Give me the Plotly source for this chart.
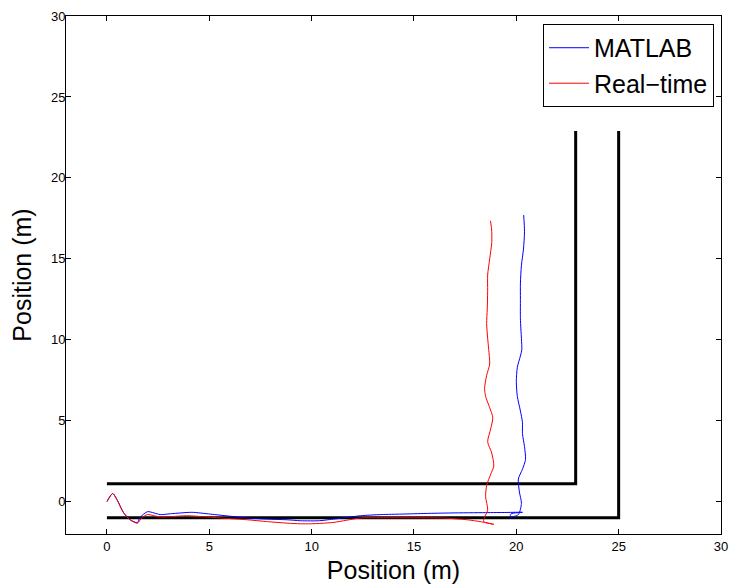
import plotly.graph_objects as go

# Walls (black)
wall_inner_x = [0, 22.9, 22.9]
wall_inner_y = [1.1, 1.1, 22.9]
wall_outer_x = [0, 25.0, 25.0]
wall_outer_y = [-1.0, -1.0, 22.9]

# MATLAB trajectory (blue)
matlab_x = [0, 0.28, 0.5, 0.8, 1.13, 1.49, 1.6, 1.98, 2.3, 2.6, 3.1, 3.6, 4.15, 5.05, 6.0, 6.85, 7.8, 8.8,
            9.46, 10.4, 10.8, 11.6, 12.4, 13.4, 14.4, 15.6, 16.8, 18.5, 19.5, 20.3, 19.75, 19.7, 20.1,
            20.25, 20.15, 20.1, 20.3, 20.45, 20.4, 20.3, 20.3, 20.2, 20.05, 20.0, 20.05, 20.2, 20.27,
            20.25, 20.2, 20.2, 20.2, 20.25, 20.35, 20.4, 20.36]
matlab_y = [0, 0.5, 0.1, -0.66, -1.12, -1.3, -1.0, -0.62, -0.7, -0.8, -0.75, -0.7, -0.66, -0.77, -0.9, -1.01,
            -1.08, -1.12, -1.18, -1.18, -1.12, -1.0, -0.87, -0.8, -0.77, -0.73, -0.7, -0.68, -0.67, -0.66,
            -0.75, -0.95, -0.8, -0.1, 0.6, 1.4, 2.0, 2.6, 3.4, 4.2, 4.9, 5.6, 6.5, 7.4, 8.3, 9.0, 9.4,
            10.06, 11.3, 12.5, 13.5, 14.6, 15.6, 16.7, 17.7]

# Real-time trajectory (red)
realtime_x = [0, 0.28, 0.5, 0.8, 1.13, 1.49, 1.7, 1.98, 2.6, 3.2, 3.9, 4.9, 5.8, 6.85, 7.8, 8.8, 9.46, 9.95,
              10.5, 11.1, 11.7, 12.4, 13.5, 15.0, 16.5, 17.6, 18.3, 18.9, 18.4, 18.6, 18.5, 18.55, 18.75,
              18.9, 18.8, 18.6, 18.75, 18.85, 18.7, 18.5, 18.45, 18.55, 18.7, 18.65, 18.6, 18.55, 18.58,
              18.6, 18.6, 18.7, 18.8, 18.8, 18.74]
realtime_y = [0, 0.5, 0.1, -0.66, -1.12, -1.33, -1.0, -0.8, -0.95, -0.92, -0.87, -0.95, -1.03, -1.12, -1.23,
              -1.33, -1.37, -1.37, -1.34, -1.28, -1.15, -1.01, -1.0, -1.0, -1.02, -1.12, -1.25, -1.4, -1.22,
              -0.5, 0.3, 1.0, 1.7, 2.2, 3.0, 3.7, 4.5, 5.2, 5.8, 6.5, 7.0, 7.8, 8.5, 9.4, 10.1, 11.0, 11.9,
              13.0, 14.0, 15.0, 16.0, 16.7, 17.35]

tick_vals_x = [0, 5, 10, 15, 20, 25, 30]
tick_vals_y = [0, 5, 10, 15, 20, 25, 30]

FONT = "Liberation Sans, Arial, Helvetica, sans-serif"

fig = go.Figure()
fig.add_trace(go.Scatter(x=wall_inner_x, y=wall_inner_y, mode="lines",
                         line=dict(color="black", width=3), showlegend=False))
fig.add_trace(go.Scatter(x=wall_outer_x, y=wall_outer_y, mode="lines",
                         line=dict(color="black", width=3), showlegend=False))
fig.add_trace(go.Scatter(x=matlab_x, y=matlab_y, mode="lines", name="MATLAB",
                         line=dict(color="rgb(0,0,255)", width=1, shape="spline", smoothing=0.7)))
fig.add_trace(go.Scatter(x=realtime_x, y=realtime_y, mode="lines", name="Real\u2212time",
                         line=dict(color="rgb(255,0,0)", width=1, shape="spline", smoothing=0.7)))

axis_common = dict(showgrid=False, zeroline=False, showline=True, linecolor="black", linewidth=1,
                   mirror="allticks", ticks="inside", ticklen=5, tickcolor="black", automargin=False,
                   tickfont=dict(family=FONT, size=13, color="black"))

fig.update_layout(
    width=729, height=584,
    paper_bgcolor="white", plot_bgcolor="white",
    margin=dict(l=66, r=8, t=16, b=50),
    font=dict(family=FONT, color="black"),
    xaxis=dict(range=[-2, 30], tickvals=tick_vals_x,
               title=dict(text="Position (m)", font=dict(size=25)), **axis_common),
    yaxis=dict(range=[-2, 30], tickvals=tick_vals_y, ticklabelstandoff=-3,
               title=dict(text="Position (m)", font=dict(size=25), standoff=12), **axis_common),
    legend=dict(x=0.9893, y=0.9846, xanchor="right", yanchor="top", bgcolor="white",
                bordercolor="black", borderwidth=1, font=dict(size=25, family=FONT),
                tracegroupgap=0, itemwidth=40),
)

fig.write_html("out.html", config={"displayModeBar": False},
               post_script="document.body.style.margin='0';")
